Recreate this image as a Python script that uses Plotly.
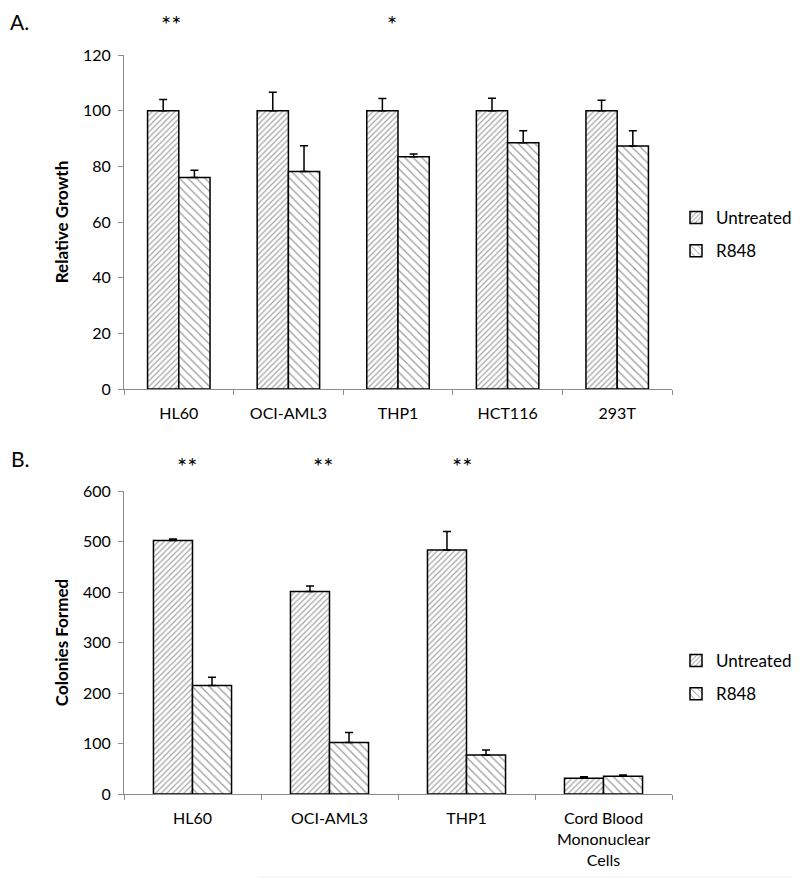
import plotly.graph_objects as go
from plotly.subplots import make_subplots

# Panel A: relative growth
cells_a = ["HL60", "OCI-AML3", "THP1", "HCT116", "293T"]
untreated_a = [100, 100, 100, 100, 100]
untreated_a_err = [4.0, 6.6, 4.4, 4.5, 3.7]
r848_a = [76.0, 78.1, 83.4, 88.5, 87.3]
r848_a_err = [2.6, 9.3, 1.0, 4.3, 5.5]
stars_a = ["**", "", "*", "", ""]

# Panel B: colonies formed
cells_b = ["HL60", "OCI-AML3", "THP1", "Cord Blood<br>Mononuclear<br>Cells"]
untreated_b = [502, 401, 483, 31]
untreated_b_err = [3, 11, 37, 3]
r848_b = [215, 102, 77, 35]
r848_b_err = [16, 20, 10, 2.6]
stars_b = ["**", "**", "**", ""]

FONT = "Lato, 'Open Sans', sans-serif"
W, H = 800, 879
OFF = 8  # page body margin


def px_x(x):
    return (x - OFF) / W


def px_y(y):
    return 1 - (y - OFF) / H


fig = make_subplots(rows=2, cols=1)


def add_pair(row, cats, u, ue, r, re, legend):
    fig.add_trace(go.Bar(
        x=cats, y=u, name="Untreated", legend=legend, legendgroup=legend + "u",
        marker=dict(color="white", line=dict(color="black", width=1.5),
                    pattern=dict(shape="/", fgcolor="#4a4a4a", bgcolor="white", size=4, solidity=0.3)),
        error_y=dict(type="data", array=ue, arrayminus=[0] * len(ue), symmetric=False,
                     color="black", thickness=1.5, width=4),
    ), row=row, col=1)
    fig.add_trace(go.Bar(
        x=cats, y=r, name="R848", legend=legend, legendgroup=legend + "r",
        marker=dict(color="white", line=dict(color="black", width=1.5),
                    pattern=dict(shape="\\", fgcolor="#333333", bgcolor="white", size=6, solidity=0.2)),
        error_y=dict(type="data", array=re, arrayminus=[0] * len(re), symmetric=False,
                     color="black", thickness=1.5, width=4),
    ), row=row, col=1)


add_pair(1, cells_a, untreated_a, untreated_a_err, r848_a, r848_a_err, "legend")
add_pair(2, cells_b, untreated_b, untreated_b_err, r848_b, r848_b_err, "legend2")

axis_common = dict(showline=True, linecolor="#8c8c8c", linewidth=1, ticks="outside",
                   tickcolor="#8c8c8c", ticklen=5, showgrid=False, zeroline=False,
                   tickfont=dict(family=FONT, size=16, color="black"))
xaxis_common = dict(domain=[px_x(124), px_x(672)], tickson="boundaries", ticklabelstandoff=10,
                    **axis_common)
title_font = dict(family=FONT, size=17, color="black")
legend_common = dict(xanchor="left", yanchor="top", itemwidth=30, tracegroupgap=8,
                     font=dict(family=FONT, size=17, color="black"), bgcolor="rgba(0,0,0,0)")

fig.update_layout(
    width=W, height=H, paper_bgcolor="white", plot_bgcolor="white",
    margin=dict(l=0, r=0, t=0, b=0, autoexpand=False),
    barmode="group", bargap=0.43, bargroupgap=0,
    font=dict(family=FONT, color="black"),
    xaxis=xaxis_common,
    xaxis2=xaxis_common,
    yaxis=dict(domain=[px_y(389), px_y(55)], range=[0, 120], dtick=20, ticklabelstandoff=4,
               title=dict(text="<b>Relative Growth</b>", font=title_font, standoff=10),
               **axis_common),
    yaxis2=dict(domain=[px_y(794), px_y(491)], range=[0, 600], dtick=100, ticklabelstandoff=4,
                title=dict(text="<b>Colonies Formed</b>", font=title_font, standoff=10),
                **axis_common),
    legend=dict(x=px_x(676), y=px_y(200), **legend_common),
    legend2=dict(x=px_x(676), y=px_y(643), **legend_common),
)

star_font = dict(family=FONT, size=24, color="black")
annotations = [
    dict(text="A.", x=px_x(9), y=1, xref="paper", yref="paper", xanchor="left",
         yanchor="top", borderpad=0, showarrow=False, font=dict(family=FONT, size=21, color="black")),
    dict(text="B.", x=px_x(10), y=px_y(445), xref="paper", yref="paper", xanchor="left",
         yanchor="top", borderpad=0, showarrow=False, font=dict(family=FONT, size=21, color="black")),
]
for cat, s, dx in zip(cells_a, stars_a, [-8, 0, -6, 0, 0]):
    if s:
        annotations.append(dict(text=s, x=cat, xref="x", y=1, yref="paper", xshift=dx,
                                yanchor="top", borderpad=0, showarrow=False, font=star_font))
for cat, s, dx in zip(cells_b, stars_b, [-6, -7, -5, 0]):
    if s:
        annotations.append(dict(text=s, x=cat, xref="x2", y=px_y(450), yref="paper", xshift=dx,
                                yanchor="top", borderpad=0, showarrow=False, font=star_font))
fig.update_layout(annotations=annotations)

# faint scan border along the bottom edge
fig.add_shape(type="line", xref="paper", yref="paper", x0=px_x(258), x1=1, y0=px_y(877), y1=px_y(877),
              line=dict(color="#eeeeee", width=1))

fig.write_html("out.html")
